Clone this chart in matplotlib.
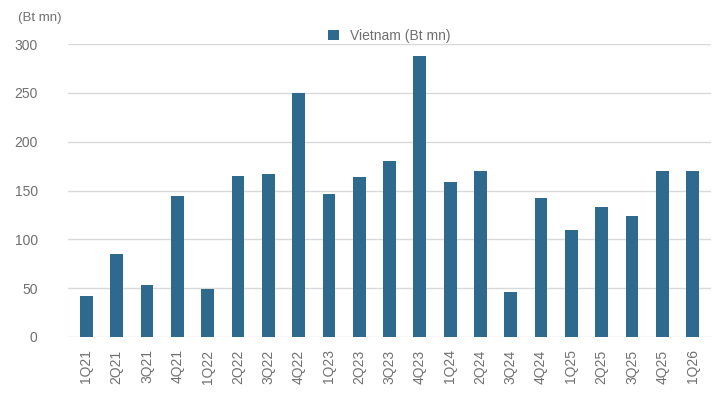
import matplotlib
matplotlib.use("Agg")
import matplotlib.pyplot as plt
import numpy as np

quarters = ["1Q21", "2Q21", "3Q21", "4Q21", "1Q22", "2Q22", "3Q22", "4Q22",
            "1Q23", "2Q23", "3Q23", "4Q23", "1Q24", "2Q24", "3Q24", "4Q24",
            "1Q25", "2Q25", "3Q25", "4Q25", "1Q26"]
vietnam = [42, 85, 53, 144, 49, 165, 167, 250, 146, 164, 180, 288,
           159, 170, 46, 142, 110, 133, 124, 170, 170]
yticks = [0, 50, 100, 150, 200, 250, 300]

plt.rcParams['font.family'] = ['Liberation Sans', 'DejaVu Sans']

fig = plt.figure(figsize=(7.18, 4.05), dpi=100)
ax = fig.add_axes([0.095, 0.168, 0.895, 0.723])

x = np.arange(len(quarters))
ax.bar(x, vietnam, width=0.42, color="#2e6a8e", label="Vietnam (Bt mn)", zorder=3)

ax.set_ylim(0, 300)
ax.set_xlim(-0.6, len(quarters) - 0.4)
ax.set_yticks(yticks)
ax.set_xticks(x)
ax.set_xticklabels(quarters, rotation=90)
ax.tick_params(axis="both", length=0, colors="#707070", labelsize=10)
ax.tick_params(axis="y", pad=22)
ax.tick_params(axis="x", pad=9)
ax.grid(axis="y", color="#d9d9d9", linewidth=1, zorder=0)
for s in ax.spines.values():
    s.set_visible(False)

fig.text(0.025, 0.955, "(Bt mn)", color="#707070", fontsize=9.5, va="center")
ax.legend(loc="lower center", bbox_to_anchor=(0.5, 0.985), frameon=False,
          fontsize=10, handlelength=0.8, handleheight=0.8, labelcolor="#707070",
          borderaxespad=0)

fig.savefig("out.png", dpi=100)
